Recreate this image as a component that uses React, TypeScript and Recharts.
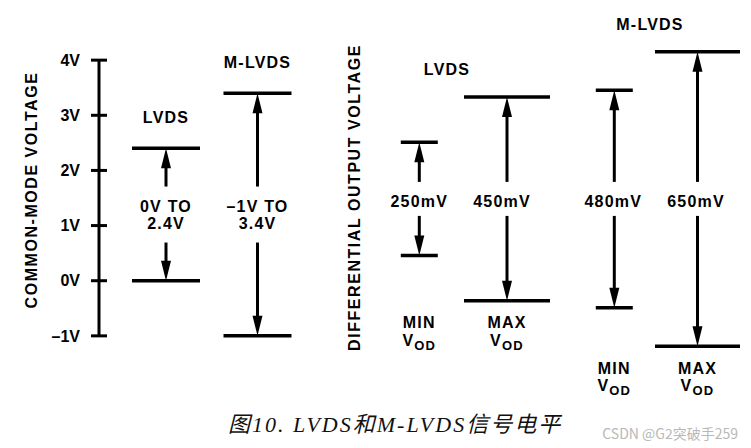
import { ComposedChart, XAxis, YAxis, ReferenceLine, ReferenceDot } from "recharts"

// common-mode voltage ranges (V)
const cmNames = ["LVDS", "M-LVDS"]
const cmLow = [0, -1]
const cmHigh = [2.4, 3.4]
const cmLabels = [["0V TO", "2.4V"], ["\u20131V TO", "3.4V"]]
const cmTicks = [-1, 0, 1, 2, 3, 4]

// differential output voltage (mV)
const vodGroups = ["LVDS", "M-LVDS"]
const vodKind = ["MIN", "MAX", "MIN", "MAX"]
const vodGroupOf = [0, 0, 1, 1]
const vodMv = [250, 450, 480, 650]

// layout, x in px
const cmX = [166, 257.5]
const cmHalf = [34, 34]
const vodX = [419.3, 507, 614.3, 697.5]
const vodHalf = [18.5, 43, 18.5, 42.5]
const vodTextShift = [0, -5, -1, -1.5]
const vodGroupX = [447, 650]

const FONT = '"Liberation Sans", Arial, sans-serif'
const txt = { fontFamily: FONT, fontWeight: 700, fontSize: 16, letterSpacing: 1.2, fill: "#000" }

const HEAD = 20
const HALF = 5

function arrowShape(lines: string[], gap: number, head?: string, shift = 0) {
  return (p: any) => {
    const x = p.x1
    const yLo = p.y1
    const yHi = p.y2
    const mid = (yLo + yHi) / 2
    const first = lines.length > 1 ? mid - 3 : mid + 8.5
    return (
      <g>
        <line x1={x} x2={x} y1={yHi + HEAD - 1} y2={mid - gap} stroke="#000" strokeWidth={3} />
        <line x1={x} x2={x} y1={mid + gap} y2={yLo - HEAD + 1} stroke="#000" strokeWidth={3} />
        <polygon points={`${x},${yHi} ${x - HALF},${yHi + HEAD} ${x + HALF},${yHi + HEAD}`} fill="#000" />
        <polygon points={`${x},${yLo} ${x - HALF},${yLo - HEAD} ${x + HALF},${yLo - HEAD}`} fill="#000" />
        {lines.map((s, i) => (
          <text key={i} x={x + shift} y={first + i * 17.5} textAnchor="middle" {...txt}>
            {s}
          </text>
        ))}
        {head && (
          <text x={x} y={yHi - 25.5} textAnchor="middle" {...txt}>
            {head}
          </text>
        )}
      </g>
    )
  }
}

const fmtVolt = (v: number) => (v < 0 ? `\u2013${-v}V` : `${v}V`)

function VoltTick(p: any) {
  const { x, y, payload } = p
  return (
    <g>
      <line x1={x - 8} x2={x + 8} y1={y} y2={y} stroke="#000" strokeWidth={3} />
      <text x={x - 19} y={y + 5.7} textAnchor="end" {...txt} letterSpacing={0}>
        {fmtVolt(payload.value)}
      </text>
    </g>
  )
}

const groupTitle = (name: string) => (p: any) => (
  <text x={p.cx} y={p.cy - 22} textAnchor="middle" {...txt}>
    {name}
  </text>
)

const vodCaption = (kind: string) => (p: any) => (
  <g>
    <text x={p.cx} y={p.cy + 27.5} textAnchor="middle" {...txt}>
      {kind}
    </text>
    <text x={p.cx} y={p.cy + 44.7} textAnchor="middle" {...txt}>
      V
      <tspan dy={4.5} fontSize={13}>
        OD
      </tspan>
    </text>
  </g>
)

export default function App() {
  return (
    <div style={{ position: "absolute", left: 0, top: 0, width: 751, height: 448, background: "#fff" }}>
      <ComposedChart width={751} height={448} margin={{ top: 5, right: 0, bottom: 57, left: 0 }}>
        <XAxis type="number" dataKey="x" domain={[99, 751]} hide allowDataOverflow />
        <YAxis
          yAxisId="v"
          type="number"
          domain={[-2, 5]}
          ticks={cmTicks}
          interval={0}
          width={99}
          tickSize={0}
          tickMargin={0}
          axisLine={false}
          tickLine={false}
          tick={(p: any) => <VoltTick {...p} />}
          allowDataOverflow
        />
        <YAxis yAxisId="mv" type="number" orientation="right" domain={[-424, 428]} hide allowDataOverflow />

        {/* common-mode axis line */}
        <ReferenceLine
          yAxisId="v"
          segment={[{ x: 99, y: -1 }, { x: 99, y: 4 }]}
          stroke="#000"
          strokeWidth={3}
        />

        {cmNames.map((name, i) => (
          <ReferenceLine
            key={`cmh${i}`}
            yAxisId="v"
            segment={[{ x: cmX[i] - cmHalf[i], y: cmHigh[i] }, { x: cmX[i] + cmHalf[i], y: cmHigh[i] }]}
            stroke="#000"
            strokeWidth={3.5}
          />
        ))}
        {cmNames.map((name, i) => (
          <ReferenceLine
            key={`cml${i}`}
            yAxisId="v"
            segment={[{ x: cmX[i] - cmHalf[i], y: cmLow[i] }, { x: cmX[i] + cmHalf[i], y: cmLow[i] }]}
            stroke="#000"
            strokeWidth={3.5}
          />
        ))}
        {cmNames.map((name, i) => (
          <ReferenceLine
            key={`cma${i}`}
            yAxisId="v"
            segment={[{ x: cmX[i], y: cmLow[i] }, { x: cmX[i], y: cmHigh[i] }]}
            shape={arrowShape(cmLabels[i], 28, name)}
          />
        ))}

        {vodMv.map((mv, i) => (
          <ReferenceLine
            key={`vh${i}`}
            yAxisId="mv"
            segment={[{ x: vodX[i] - vodHalf[i], y: mv / 2 }, { x: vodX[i] + vodHalf[i], y: mv / 2 }]}
            stroke="#000"
            strokeWidth={3.5}
          />
        ))}
        {vodMv.map((mv, i) => (
          <ReferenceLine
            key={`vl${i}`}
            yAxisId="mv"
            segment={[{ x: vodX[i] - vodHalf[i], y: -mv / 2 }, { x: vodX[i] + vodHalf[i], y: -mv / 2 }]}
            stroke="#000"
            strokeWidth={3.5}
          />
        ))}
        {vodMv.map((mv, i) => (
          <ReferenceLine
            key={`va${i}`}
            yAxisId="mv"
            segment={[{ x: vodX[i], y: -mv / 2 }, { x: vodX[i], y: mv / 2 }]}
            shape={arrowShape([`${mv}mV`], 17, undefined, vodTextShift[i])}
          />
        ))}
        {vodGroups.map((g, gi) => {
          const top = Math.max(...vodMv.filter((_, i) => vodGroupOf[i] === gi))
          return (
            <ReferenceDot key={`vg${gi}`} yAxisId="mv" x={vodGroupX[gi]} y={top / 2} r={0} shape={groupTitle(g)} />
          )
        })}
        {vodKind.map((k, i) => {
          const top = Math.max(...vodMv.filter((_, j) => vodGroupOf[j] === vodGroupOf[i]))
          return <ReferenceDot key={`vc${i}`} yAxisId="mv" x={vodX[i]} y={-top / 2} r={0} shape={vodCaption(k)} />
        })}

        <text x={36.5} y={190} transform="rotate(-90 36.5 190)" textAnchor="middle" {...txt} letterSpacing={1.55}>
          COMMON-MODE VOLTAGE
        </text>
        <text x={360} y={197.5} transform="rotate(-90 360 197.5)" textAnchor="middle" {...txt} letterSpacing={1.55}>
          DIFFERENTIAL OUTPUT VOLTAGE
        </text>
      </ComposedChart>

      <div
        style={{
          position: "absolute",
          left: 228,
          top: 412,
          fontFamily: '"Liberation Serif", "Noto Sans CJK SC", serif',
          fontStyle: "italic",
          fontSize: 22,
          lineHeight: "26px",
          letterSpacing: 2,
          whiteSpace: "nowrap",
          color: "#111",
        }}
      >
        图10. LVDS和M-LVDS信号电平
      </div>
      <div
        style={{
          position: "absolute",
          right: 13,
          top: 425,
          fontFamily: '"Noto Sans CJK SC", "Noto Sans", sans-serif',
          fontSize: 14,
          lineHeight: "17px",
          whiteSpace: "nowrap",
          color: "#b8b8b8",
        }}
      >
        CSDN @G2突破手259
      </div>
    </div>
  )
}
